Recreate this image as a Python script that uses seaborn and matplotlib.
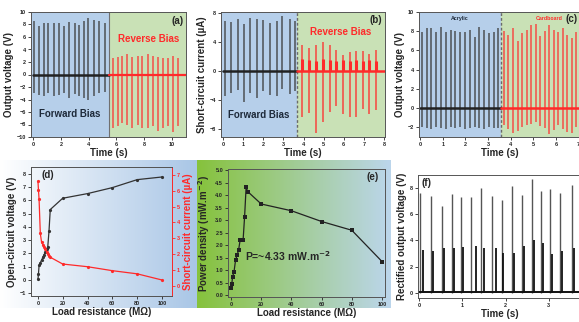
import numpy as np
import pandas as pd
import matplotlib
matplotlib.use("Agg")
import matplotlib.pyplot as plt
import seaborn as sns

sns.set_style("ticks")
plt.rcParams['font.family'] = ['Liberation Sans', 'DejaVu Sans']
plt.rcParams['font.weight'] = 'bold'

# ---------------- datos ----------------
# (a) voltaje de salida, polarizacion directa / inversa
a_fwd_t = [0.05, 0.4, 0.76, 1.1, 1.5, 1.85, 2.25, 2.6, 3.0, 3.3, 3.65, 3.96, 4.36, 4.76, 5.17]
a_fwd_pos = [8.5, 7.8, 8.3, 8.3, 8.2, 8.2, 7.8, 8.4, 8.3, 7.9, 8.5, 9.0, 8.7, 8.6, 8.3]
a_fwd_neg = [-3.0, -3.2, -3.4, -3.0, -3.5, -3.3, -3.0, -3.8, -3.1, -3.5, -3.7, -4.0, -3.4, -3.0, -2.8]
a_rev_t = [5.73, 6.08, 6.41, 6.78, 7.14, 7.52, 7.87, 8.25, 8.63, 8.96, 9.34, 9.72, 10.07, 10.43]
a_rev_pos = [2.7, 2.8, 3.0, 3.2, 2.8, 2.9, 3.0, 3.2, 2.9, 2.8, 2.7, 2.7, 2.9, 2.6]
a_rev_neg = [-8.5, -8.3, -7.8, -8.0, -8.6, -8.0, -8.5, -8.5, -8.2, -9.0, -8.5, -8.2, -9.2, -8.3]
a_split = 5.45
a_end = 11.0

# (b) corriente de cortocircuito
b_fwd_t = [0.08, 0.38, 0.73, 1.03, 1.36, 1.68, 2.01, 2.33, 2.66, 2.94, 3.31, 3.59]
b_fwd_pos = [6.8, 6.7, 7.2, 6.5, 7.3, 7.2, 7.0, 6.6, 6.8, 7.5, 7.2, 6.9]
b_fwd_neg = [-3.5, -3.0, -2.6, -4.3, -3.0, -3.8, -2.8, -3.3, -3.5, -2.5, -3.2, -2.8]
b_rev_t = [3.92, 4.28, 4.62, 4.98, 5.31, 5.63, 5.96, 6.29, 6.61, 6.94, 7.27, 7.59]
b_rev_pos = [3.6, 3.1, 3.6, 4.0, 3.5, 2.9, 2.2, 2.6, 2.8, 2.8, 2.3, 2.9]
b_rev_neg = [-6.4, -5.8, -8.6, -7.0, -5.6, -4.9, -6.0, -6.3, -6.4, -5.2, -6.0, -5.4]
b_rev_small = [1.6, 1.5, 1.4, 1.6, 1.5, 1.3, 1.5, 1.4, 1.5, 1.4, 1.5, 1.4]
b_split = 3.7
b_end = 8.05

# (c) acrilico / carton
c_acr_t = [0.08, 0.3, 0.5, 0.72, 0.93, 1.13, 1.35, 1.56, 1.77, 1.98, 2.19, 2.4, 2.61, 2.82, 3.03, 3.24, 3.45]
c_acr_pos = [7.9, 8.3, 8.3, 7.9, 8.4, 7.9, 8.1, 8.0, 7.9, 7.9, 8.1, 7.4, 8.4, 8.1, 7.8, 7.9, 8.3]
c_acr_neg = [-2.0, -2.1, -2.2, -2.0, -2.1, -2.2, -2.0, -2.1, -2.0, -2.2, -2.1, -2.0, -2.1, -2.2, -2.0, -2.1, -2.1]
c_car_t = [3.68, 3.9, 4.1, 4.3, 4.5, 4.7, 4.9, 5.1, 5.3, 5.5, 5.7, 5.9, 6.1, 6.3, 6.5, 6.7, 6.9]
c_car_pos = [8.0, 7.6, 8.3, 7.0, 7.8, 8.1, 8.6, 8.8, 7.5, 8.0, 8.6, 8.1, 7.9, 8.3, 7.6, 7.3, 7.9]
c_car_neg = [-1.7, -2.2, -2.6, -2.4, -2.0, -1.8, -1.6, -1.4, -1.9, -2.1, -2.7, -2.3, -1.8, -2.2, -2.5, -2.6, -2.0]
c_split = 3.55
c_end = 7.1

# (d) voltaje / corriente vs resistencia de carga
d_R = [0.1, 0.5, 1, 2, 3, 4, 5, 6, 7, 8, 9, 10, 20, 40, 60, 80, 100]
d_V = [0.05, 0.45, 1.1, 1.3, 1.5, 1.7, 1.9, 2.1, 2.3, 2.5, 3.7, 5.3, 6.15, 6.5, 6.95, 7.55, 7.75]
d_I = [6.6, 6.05, 5.45, 3.3, 2.75, 2.6, 2.45, 2.3, 2.15, 2.0, 1.9, 1.8, 1.37, 1.2, 0.95, 0.75, 0.36]

# (e) densidad de potencia
e_R = [0.1, 0.5, 1, 2, 3, 4, 5, 6, 8, 9, 10, 11, 20, 40, 60, 80, 100]
e_P = [0.3, 0.45, 0.72, 0.95, 1.4, 1.6, 1.8, 2.2, 2.2, 3.15, 4.33, 4.15, 3.65, 3.38, 2.95, 2.6, 1.35]

# (f) voltaje rectificado
f_tall_t = [0.02, 0.28, 0.53, 0.76, 0.96, 1.2, 1.43, 1.69, 1.92, 2.15, 2.38, 2.61, 2.83, 3.04, 3.27, 3.54]
f_tall_v = [7.6, 7.4, 6.6, 7.55, 7.3, 7.35, 8.0, 7.4, 7.1, 8.15, 7.5, 8.7, 7.75, 7.95, 7.6, 8.25]
f_short_t = [0.08, 0.32, 0.57, 0.8, 1.01, 1.31, 1.5, 1.77, 1.95, 2.19, 2.42, 2.65, 2.87, 3.08, 3.31, 3.58]
f_short_v = [3.3, 3.2, 3.4, 3.45, 3.5, 3.6, 3.4, 3.4, 3.05, 3.05, 3.55, 4.05, 3.8, 2.95, 3.2, 3.4]
f_end = 3.75

# ---------------- figura ----------------
W, H = 579, 322
fig = plt.figure(figsize=(W / 100, H / 100), dpi=100)

def box(x0, y0, x1, y1):
    return [x0 / W, 1 - y1 / H, (x1 - x0) / W, (y1 - y0) / H]

def gradient_bg(rect, c0, c1):
    bg = fig.add_axes(rect, zorder=-5)
    c0 = np.array(matplotlib.colors.to_rgb(c0))
    c1 = np.array(matplotlib.colors.to_rgb(c1))
    s = np.linspace(0, 1, 256)[:, None]
    img = (c0[None, :] * (1 - s) + c1[None, :] * s)[None, :, :]
    bg.imshow(img, aspect='auto', extent=[0, 1, 0, 1])
    bg.set_axis_off()

gradient_bg(box(0, 160, 197, 308), '#ffffff', '#a9c6e6')
gradient_bg(box(197, 160, 391, 308), '#86c23c', '#bcd6ec')

BLUE = '#b6cfea'
GREEN = '#c9e1b6'
DARK = '#3b3b3b'
RED = '#ff2a2a'
LAB = 7
TICK = 4

def style(ax):
    ax.tick_params(labelsize=TICK, length=2, width=0.6, pad=1.5)
    for s in ax.spines.values():
        s.set_linewidth(0.7)
        s.set_color('#555555')
        s.set_visible(True)

# (a)
ax = fig.add_axes(box(31, 12, 186, 137))
ax.axvspan(-0.15, a_split, color=BLUE, lw=0)
ax.axvspan(a_split, a_end, color=GREEN, lw=0)
ax.axvline(a_split, color='#707070', lw=0.8)
ax.vlines(a_fwd_t, a_fwd_neg, a_fwd_pos, color=DARK, lw=1.1, alpha=0.85)
ax.vlines(a_rev_t, a_rev_neg, a_rev_pos, color=RED, lw=1.1, alpha=0.8)
ax.plot([0, a_split], [0, 0], color='#222222', lw=1.8)
ax.plot([a_split, a_end], [0, 0], color=RED, lw=1.6)
ax.set_xlim(-0.15, a_end)
ax.set_ylim(-10, 10)
ax.set_xticks([0, 2, 4, 6, 8, 10])
ax.set_yticks(range(-10, 11, 2))
ax.set_xlabel('Time (s)', fontsize=LAB, fontweight='bold', labelpad=1)
ax.set_ylabel('Output voltage (V)', fontsize=LAB, fontweight='bold', labelpad=2)
ax.text(2.6, -6.3, 'Forward Bias', fontsize=LAB, fontweight='bold', color='#1e2a3a', ha='center', va='center')
ax.text(8.3, 5.6, 'Reverse Bias', fontsize=LAB, fontweight='bold', color=RED, ha='center', va='center')
ax.text(10.8, 8.6, '(a)', fontsize=LAB, fontweight='bold', ha='right', va='center')
style(ax)

# (b)
ax = fig.add_axes(box(221, 12, 385, 137))
ax.axvspan(-0.1, b_split, color=BLUE, lw=0)
ax.axvspan(b_split, b_end, color=GREEN, lw=0)
ax.axvline(b_split, color='#6a6a6a', lw=1.0, ls=(0, (2, 1.5)))
ax.vlines(b_fwd_t, b_fwd_neg, b_fwd_pos, color=DARK, lw=1.1, alpha=0.85)
ax.vlines(b_rev_t, b_rev_neg, b_rev_pos, color=RED, lw=1.1, alpha=0.85)
ax.vlines(b_rev_t, 0, b_rev_small, color=RED, lw=2.2)
ax.plot([0, b_split], [0, 0], color='#222222', lw=1.8)
ax.plot([b_split, b_end], [0, 0], color=RED, lw=1.8)
ax.set_xlim(-0.1, b_end)
ax.set_ylim(-9.1, 8.1)
ax.set_xticks(range(0, 9))
ax.set_yticks([-8, -4, 0, 4, 8])
ax.set_xlabel('Time (s)', fontsize=LAB, fontweight='bold', labelpad=1)
ax.set_ylabel('Short-circuit current (\u00b5A)', fontsize=LAB, fontweight='bold', labelpad=2)
ax.text(1.75, -6.1, 'Forward Bias', fontsize=LAB, fontweight='bold', color='#1e2a3a', ha='center', va='center')
ax.text(5.85, 5.4, 'Reverse Bias', fontsize=LAB, fontweight='bold', color=RED, ha='center', va='center')
ax.text(7.9, 7.0, '(b)', fontsize=LAB, fontweight='bold', ha='right', va='center')
style(ax)

# (c)
ax = fig.add_axes(box(419, 12, 581, 137))
ax.axvspan(-0.05, c_split, color=BLUE, lw=0)
ax.axvspan(c_split, c_end, color=GREEN, lw=0)
ax.axvline(c_split, color='#6a6a6a', lw=1.0, ls=(0, (2, 1.5)))
ax.vlines(c_acr_t, c_acr_neg, c_acr_pos, color=DARK, lw=1.1, alpha=0.85)
ax.vlines(c_car_t, c_car_neg, c_car_pos, color=RED, lw=1.1, alpha=0.8)
ax.plot([0, c_split], [0, 0], color='#222222', lw=1.8)
ax.plot([c_split, c_end], [0, 0], color=RED, lw=1.8)
ax.set_xlim(-0.05, c_end)
ax.set_ylim(-3, 10)
ax.set_xticks(range(0, 8))
ax.set_yticks([-2, 0, 2, 4, 6, 8, 10])
ax.set_xlabel('Time (s)', fontsize=LAB, fontweight='bold', labelpad=1)
ax.set_ylabel('Output voltage (V)', fontsize=LAB, fontweight='bold', labelpad=2)
ax.text(1.75, 9.3, 'Acrylic', fontsize=3.8, fontweight='bold', color='#1e2a3a', ha='center', va='center')
ax.text(5.7, 9.3, 'Cardboard', fontsize=3.8, fontweight='bold', color=RED, ha='center', va='center')
ax.text(6.42, 9.3, '(c)', fontsize=LAB, fontweight='bold', ha='left', va='center')
style(ax)

# (d)
df_d = pd.DataFrame({'R': d_R, 'V': d_V, 'I': d_I})
ax = fig.add_axes(box(31, 167, 172, 296))
ax.set_facecolor('none')
sns.lineplot(data=df_d, x='R', y='V', ax=ax, color='#333333', lw=0.9,
             marker='o', markersize=2.3, markeredgewidth=0)
ax.set_xlim(-5.5, 108)
ax.set_ylim(-1.2, 8.5)
ax.set_xticks(range(0, 101, 20))
ax.set_yticks(range(-1, 9))
ax.set_xlabel('Load resistance (M\u03a9)', fontsize=LAB, fontweight='bold', labelpad=1)
ax.set_ylabel('Open-circuit voltage (V)', fontsize=LAB, fontweight='bold', labelpad=2)
ax.text(3, 7.9, '(d)', fontsize=LAB, fontweight='bold', ha='left', va='center')
style(ax)
ax2 = ax.twinx()
sns.lineplot(data=df_d, x='R', y='I', ax=ax2, color=RED, lw=0.9,
             marker='o', markersize=2.3, markeredgewidth=0)
ax2.set_ylim(-0.65, 7.5)
ax2.set_yticks(range(0, 8))
ax2.set_ylabel('Short-circuit current (\u00b5A)', fontsize=LAB, fontweight='bold', color=RED, labelpad=2)
style(ax2)
ax2.tick_params(axis='y', colors=RED, labelsize=TICK)
ax2.spines['right'].set_color(RED)

# (e)
df_e = pd.DataFrame({'R': e_R, 'P': e_P})
ax = fig.add_axes(box(228, 169, 385, 297))
ax.set_facecolor('none')
sns.lineplot(data=df_e, x='R', y='P', ax=ax, color='#222222', lw=0.9,
             marker='s', markersize=2.2, markeredgewidth=0)
ax.set_xlim(-2, 102)
ax.set_ylim(-0.07, 5.05)
ax.set_xticks(range(0, 101, 20))
ax.set_yticks(np.arange(0, 5.01, 0.5))
ax.set_yticklabels([f'{v:.1f}' for v in np.arange(0, 5.01, 0.5)])
ax.set_xlabel('Load resistance (M\u03a9)', fontsize=LAB, fontweight='bold', labelpad=1)
ax.set_ylabel('Power density (mW.m$^{\\mathbf{-2}}$)', fontsize=LAB, fontweight='bold', labelpad=2)
ax.text(38, 1.55, 'P=~4.33 mW.m$^{\\mathbf{-2}}$', fontsize=7.5, fontweight='bold', ha='center', va='center')
ax.text(98, 4.75, '(e)', fontsize=LAB, fontweight='bold', ha='right', va='center')
style(ax)

# (f)
ax = fig.add_axes(box(418, 175, 581, 298))
ax.vlines(f_tall_t, 0, f_tall_v, color='#555555', lw=1.0)
ax.vlines(f_short_t, 0, f_short_v, color='#111111', lw=1.3)
ax.plot([0, f_end], [0.05, 0.05], color='#111111', lw=1.4)
ax.set_xlim(-0.03, f_end)
ax.set_ylim(-0.4, 9.0)
ax.set_xticks([0, 1, 2, 3])
ax.set_yticks([0, 2, 4, 6, 8])
ax.set_xlabel('Time (s)', fontsize=LAB, fontweight='bold', labelpad=1)
ax.set_ylabel('Rectified output voltage (V)', fontsize=LAB, fontweight='bold', labelpad=2)
ax.text(0.05, 8.4, '(f)', fontsize=LAB, fontweight='bold', ha='left', va='center')
style(ax)

fig.savefig('out.png', dpi=100)
